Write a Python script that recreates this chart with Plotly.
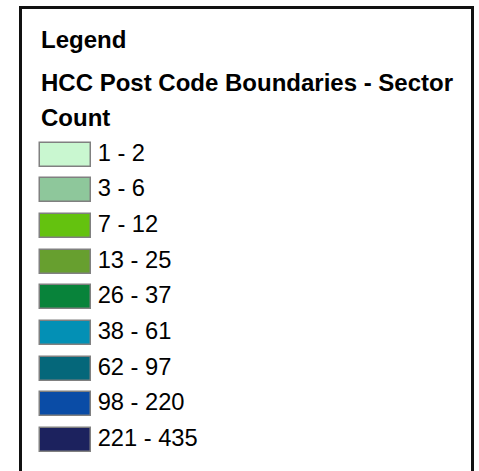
import plotly.graph_objects as go

# ---- data ----
legend_heading = "Legend"
layer_title_line1 = "HCC Post Code Boundaries - Sector"
layer_title_line2 = "Count"
class_labels = ["1 - 2", "3 - 6", "7 - 12", "13 - 25", "26 - 37",
                "38 - 61", "62 - 97", "98 - 220", "221 - 435"]
class_colors = ["#C9F7D0", "#8EC79B", "#64C20F", "#679F2F", "#08833A",
                "#0390B5", "#05677A", "#0A4CA6", "#1C225E"]
swatch_length = [1] * len(class_labels)
label_anchor = [1.13] * len(class_labels)

FONT = "Liberation Sans, Arial, sans-serif"
W, H = 479, 471

fig = go.Figure()

# swatches as horizontal bars on a category axis
fig.add_trace(go.Bar(
    y=class_labels,
    x=swatch_length,
    orientation="h",
    base=0,
    width=0.673,
    marker=dict(color=class_colors, line=dict(color="#808080", width=1.5)),
    hoverinfo="skip",
    showlegend=False,
))

# class labels
fig.add_trace(go.Scatter(
    y=class_labels,
    x=label_anchor,
    mode="text",
    text=class_labels,
    textposition="middle right",
    textfont=dict(family=FONT, size=23.7, color="#000000"),
    hoverinfo="skip",
    showlegend=False,
    cliponaxis=False,
))

# pixel mapping: swatch from x=40 to x=91 px
px_per_unit = 51.0
x0 = -40.0 / px_per_unit
x1 = x0 + W / px_per_unit

row_px = 35.65
top = -154.8 / row_px
bottom = top + H / row_px

fig.update_layout(
    width=W, height=H,
    margin=dict(l=0, r=0, t=0, b=0),
    paper_bgcolor="white", plot_bgcolor="white",
    xaxis=dict(range=[x0, x1], visible=False, fixedrange=True),
    yaxis=dict(range=[bottom, top], visible=False, type="category",
               categoryorder="array", categoryarray=class_labels, fixedrange=True),
    bargap=0,
    shapes=[dict(type="rect", xref="paper", yref="paper",
                 x0=20.5 / W, x1=472.5 / W, y0=-0.05, y1=1 - 7.5 / H,
                 line=dict(color="#111111", width=3), fillcolor="rgba(0,0,0,0)")],
    annotations=[
        dict(text="<b>" + legend_heading + "</b>", xref="paper", yref="paper",
             x=39 / W, y=1 - 39.5 / H, xanchor="left", yanchor="middle",
             showarrow=False, font=dict(family=FONT, size=24, color="#000")),
        dict(text="<b>" + layer_title_line1 + "</b>", xref="paper", yref="paper",
             x=39 / W, y=1 - 82.5 / H, xanchor="left", yanchor="middle",
             showarrow=False, font=dict(family=FONT, size=24, color="#000")),
        dict(text="<b>" + layer_title_line2 + "</b>", xref="paper", yref="paper",
             x=39 / W, y=1 - 118 / H, xanchor="left", yanchor="middle",
             showarrow=False, font=dict(family=FONT, size=24, color="#000")),
    ],
)

fig.write_html("out.html", config={"displayModeBar": False},
               post_script="document.body.style.margin='0';document.body.style.overflow='hidden';")
